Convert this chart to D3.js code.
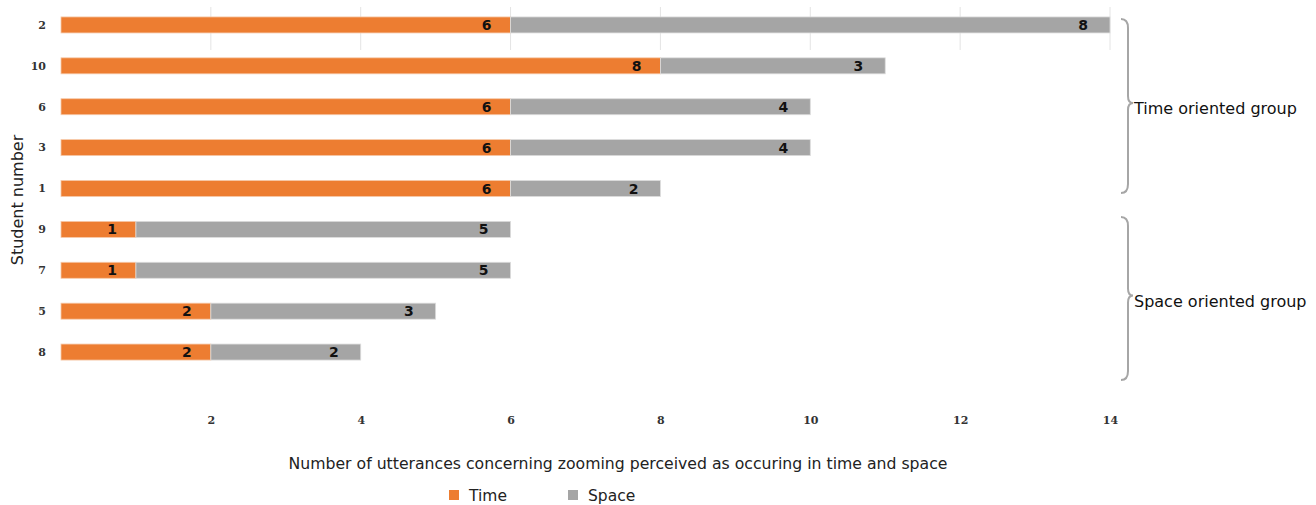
<!DOCTYPE html>
<html><head><meta charset="utf-8">
<script src="https://cdn.jsdelivr.net/npm/d3@7"></script>
<style>body{margin:0;background:#fff}svg{display:block}</style>
</head><body>
<svg id="c" width="1316" height="505"></svg>
<script>
const students = ["2","10","6","3","1","9","7","5","8"];
const timeVals = [6,8,6,6,6,1,1,2,2];
const spaceVals = [8,3,4,4,2,5,5,3,2];
const xTicks = [2,4,6,8,10,12,14];
const seriesNames = ["Time","Space"];
const groups = [
  {label:"Time oriented group", first:"2", last:"1"},
  {label:"Space oriented group", first:"9", last:"8"}
];

const colors = {Time:"#ed7d31", Space:"#a5a5a5"};
const svg = d3.select("#c");
const x = d3.scaleLinear().domain([0,14]).range([61,1110]);
const y = d3.scaleBand().domain(students).range([5.5,373.5]).paddingInner(0.6).paddingOuter(0.3);

// gridlines (short, top)
svg.append("g").selectAll("line").data(xTicks).join("line")
  .attr("x1",d=>x(d)).attr("x2",d=>x(d)).attr("y1",7).attr("y2",50)
  .attr("stroke","#e4e4e4").attr("stroke-width",1);

const rows = students.map((s,i)=>({s, t:timeVals[i], p:spaceVals[i]}));
const bh = 16;
const g = svg.append("g");
rows.forEach(r=>{
  const cy = y(r.s)+y.bandwidth()/2 - 1;
  g.append("rect").attr("x",x(0)).attr("y",cy-bh/2).attr("width",x(r.t)-x(0)).attr("height",bh)
    .attr("fill",colors.Time).attr("stroke","#f6c9a9").attr("stroke-width",0.8);
  g.append("rect").attr("x",x(r.t)).attr("y",cy-bh/2).attr("width",x(r.t+r.p)-x(r.t)).attr("height",bh)
    .attr("fill",colors.Space).attr("stroke","#dcdcdc").attr("stroke-width",0.8);
  g.append("text").attr("x",x(r.t)-19).attr("y",cy+5).attr("text-anchor","end")
    .attr("font-family","DejaVu Sans").attr("font-weight","bold").attr("font-size",14).attr("fill","#111").text(r.t);
  g.append("text").attr("x",x(r.t+r.p)-22).attr("y",cy+5).attr("text-anchor","end")
    .attr("font-family","DejaVu Sans").attr("font-weight","bold").attr("font-size",14).attr("fill","#111").text(r.p);
});

// y axis labels
const yAxis = d3.axisLeft(y).tickSize(0).tickPadding(0);
const ya = svg.append("g").attr("transform","translate(46,-1)").call(yAxis);
ya.select(".domain").remove();
ya.selectAll("text").attr("font-family","DejaVu Serif").attr("font-weight","bold").attr("font-size",11).attr("fill","#333").attr("dy","0.35em");

// x axis labels
const xAxis = d3.axisBottom(x).tickValues(xTicks).tickSize(0).tickPadding(0);
const xa = svg.append("g").attr("transform","translate(0,416)").call(xAxis);
xa.select(".domain").remove();
xa.selectAll("text").attr("font-family","DejaVu Serif").attr("font-weight","bold").attr("font-size",11).attr("fill","#333");

// axis titles
svg.append("text").attr("transform","translate(23,200) rotate(-90)").attr("text-anchor","middle")
  .attr("font-family","DejaVu Sans").attr("font-size",16).attr("fill","#222").text("Student number");
svg.append("text").attr("x",618).attr("y",469).attr("text-anchor","middle")
  .attr("font-family","DejaVu Sans").attr("font-size",15.7).attr("fill","#222")
  .text("Number of utterances concerning zooming perceived as occuring in time and space");

// legend
const legX = [449,568];
seriesNames.forEach((n,i)=>{
  svg.append("rect").attr("x",legX[i]).attr("y",490).attr("width",10).attr("height",10).attr("fill",colors[n]);
  svg.append("text").attr("x",legX[i]+20).attr("y",501).attr("font-family","DejaVu Sans").attr("font-size",15.5).attr("fill","#222").text(n);
});

// braces
const x0=1121, x1=1128, x2=1133;
const braceSpans = [[19,193],[217,380]];
groups.forEach((gr,i)=>{
  const [y1,y2] = braceSpans[i];
  const ym = (y1+y2)/2 - 3;
  const p = `M${x0},${y1} Q${x1},${y1} ${x1},${y1+9} L${x1},${ym-7} Q${x1},${ym} ${x2},${ym} Q${x1},${ym} ${x1},${ym+7} L${x1},${y2-9} Q${x1},${y2} ${x0},${y2}`;
  svg.append("path").attr("d",p).attr("fill","none").attr("stroke","#a6a6a6").attr("stroke-width",2);
  svg.append("text").attr("x",1134).attr("y",ym+11).attr("font-family","DejaVu Sans").attr("font-size",16).attr("fill","#111").text(gr.label);
});
</script>
</body></html>
